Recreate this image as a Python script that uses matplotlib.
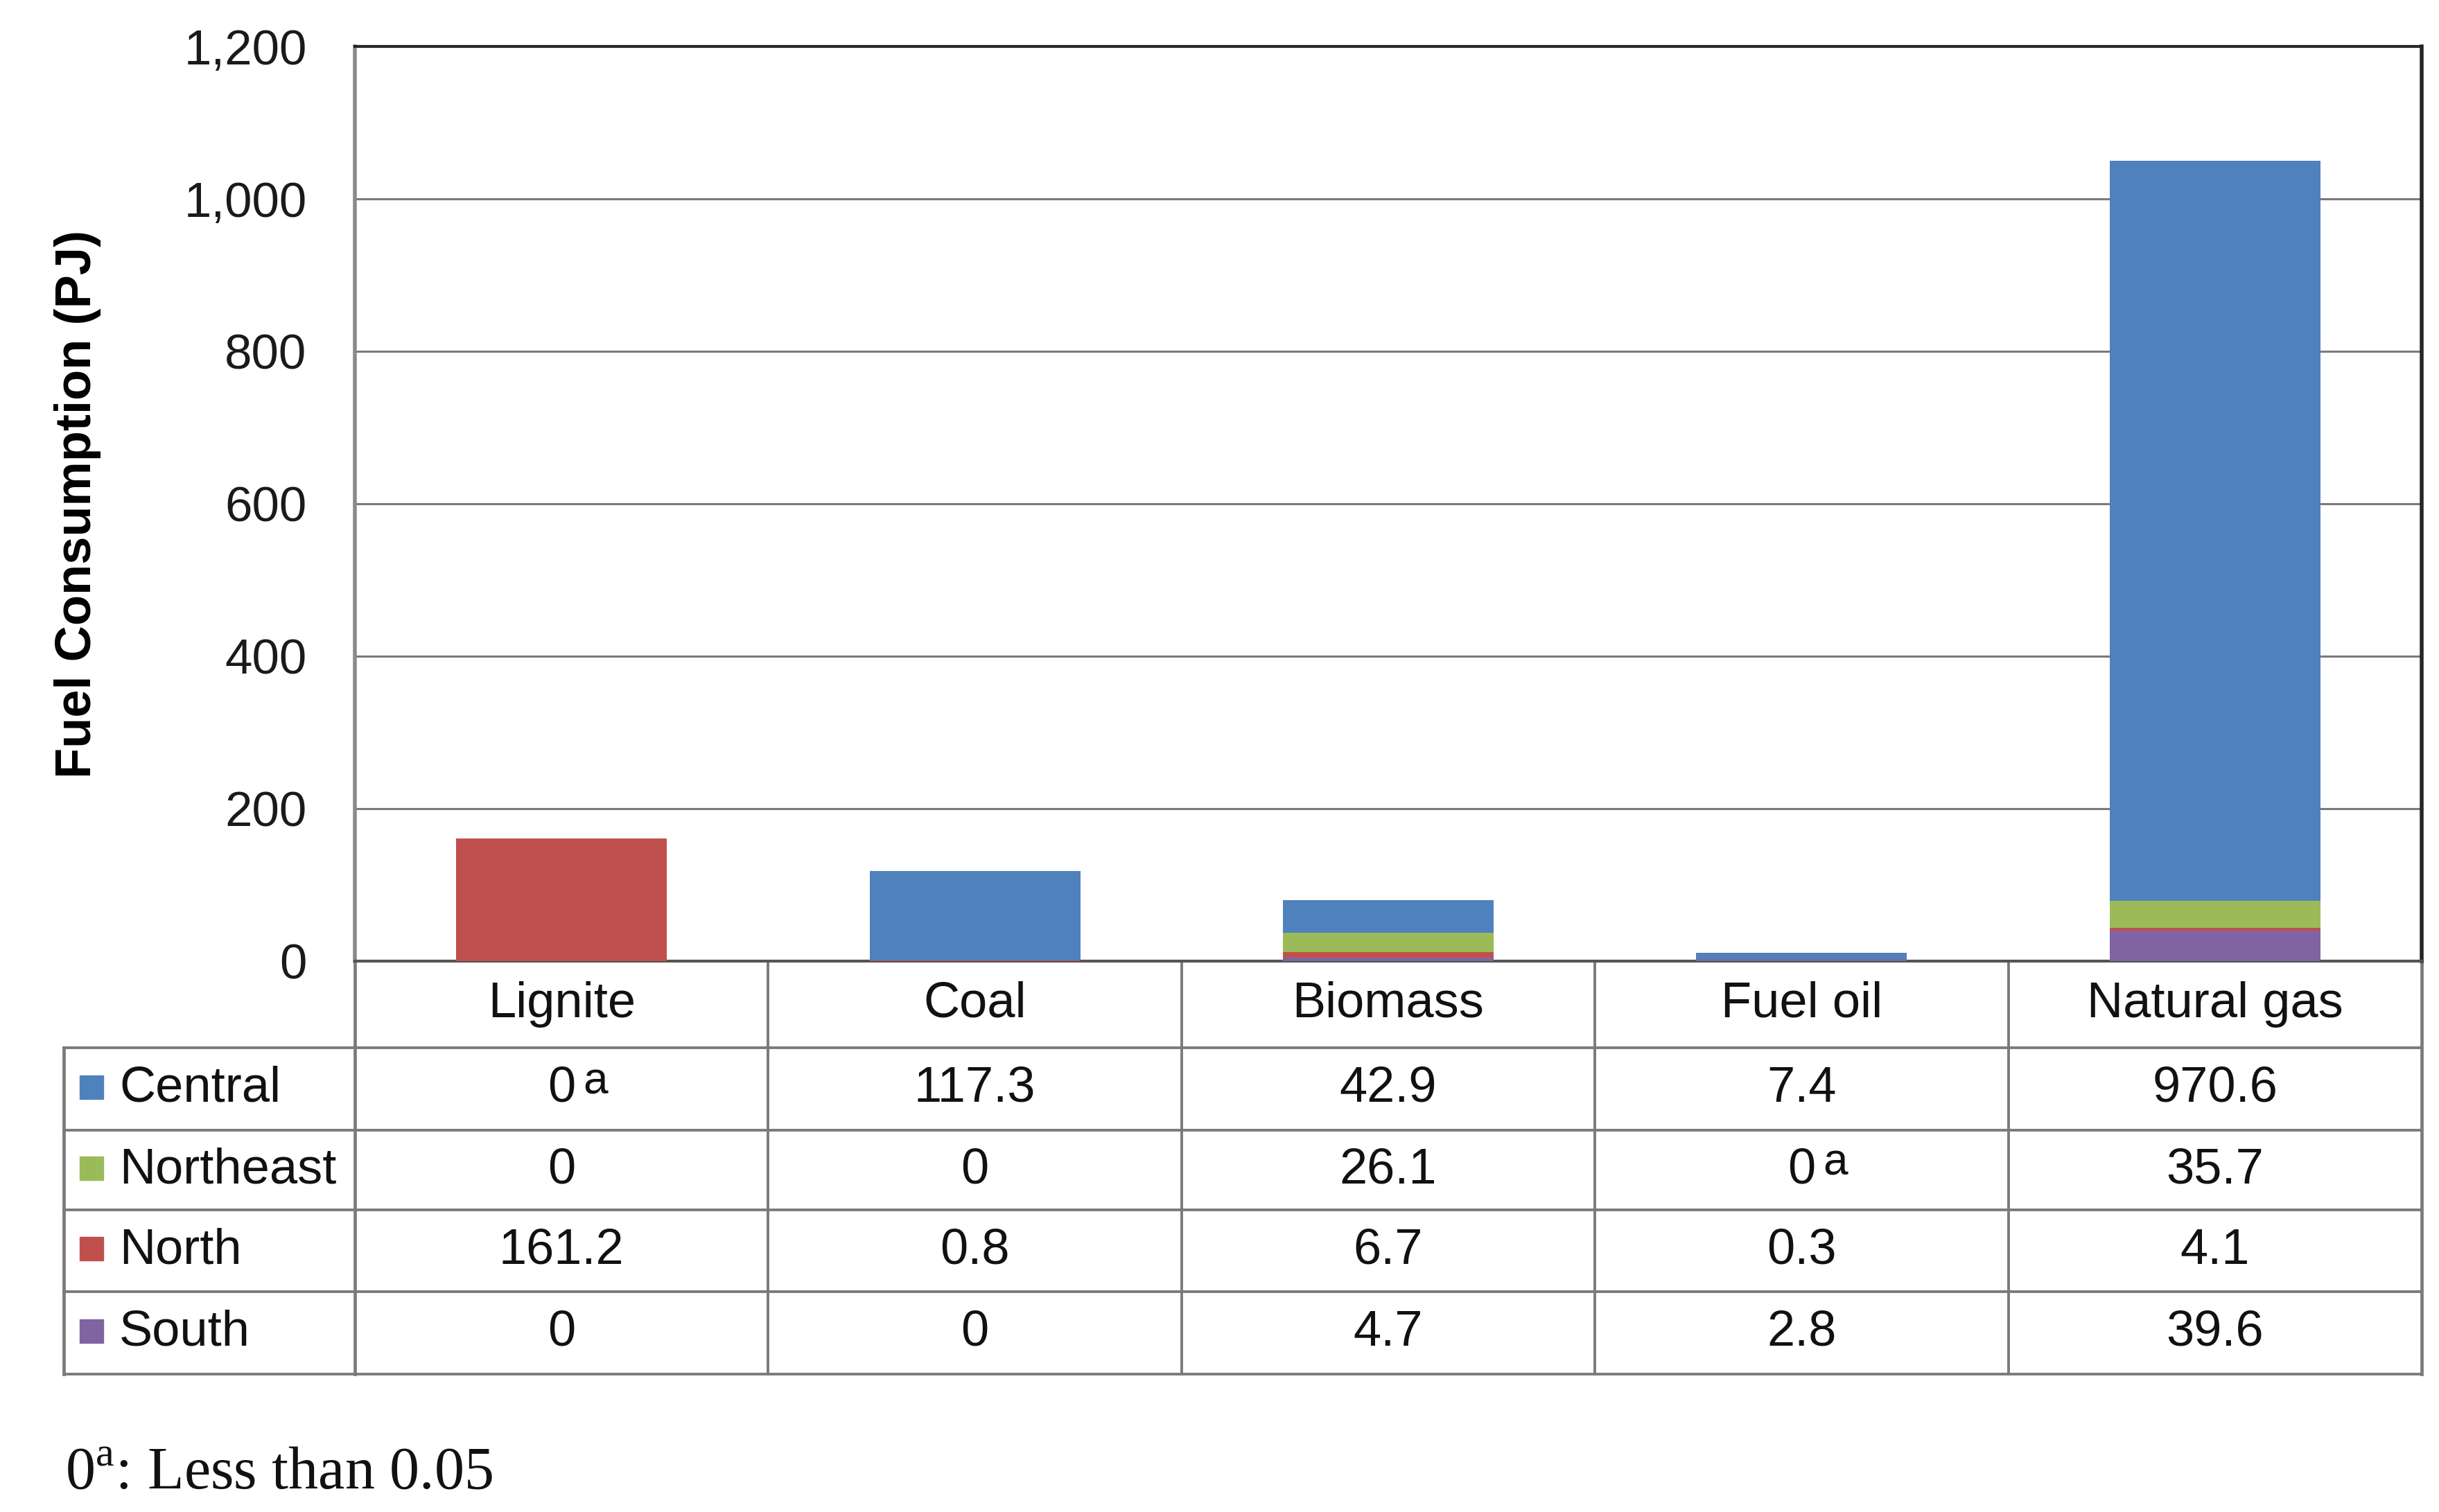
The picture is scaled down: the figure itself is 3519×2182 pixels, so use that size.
import matplotlib
matplotlib.use("Agg")
import matplotlib.pyplot as plt
from matplotlib.patches import Rectangle
from matplotlib.lines import Line2D
from matplotlib import transforms
import numpy as np

plt.rcParams['font.family'] = ['Liberation Sans', 'DejaVu Sans']
plt.rcParams['mathtext.fontset'] = 'custom'
plt.rcParams['mathtext.rm'] = 'Liberation Serif'

# ---------------- data ----------------
fuels = ["Lignite", "Coal", "Biomass", "Fuel oil", "Natural gas"]
regions = ["Central", "Northeast", "North", "South"]
central = [0, 117.3, 42.9, 7.4, 970.6]
northeast = [0, 0, 26.1, 0, 35.7]
north = [161.2, 0.8, 6.7, 0.3, 4.1]
south = [0, 0, 4.7, 2.8, 39.6]
# cells marked "0^a" (less than 0.05)
central_lt = [True, False, False, False, False]
northeast_lt = [False, False, False, True, False]
north_lt = [False] * 5
south_lt = [False] * 5
colors = {"Central": "#4F81BD", "Northeast": "#9BBB59",
          "North": "#C0504D", "South": "#8064A2"}
yticks = [0, 200, 400, 600, 800, 1000, 1200]
ylabel = "Fuel Consumption (PJ)"
footnote_text = "Less than 0.05"

series = {"Central": central, "Northeast": northeast, "North": north, "South": south}
flags = {"Central": central_lt, "Northeast": northeast_lt, "North": north_lt, "South": south_lt}

W, H = 3519, 2182
fig = plt.figure(figsize=(W / 100, H / 100), dpi=100)
ax_l, ax_r, ax_t, ax_b = 512, 3494, 67, 1387
ax = fig.add_axes([ax_l / W, 1 - ax_b / H, (ax_r - ax_l) / W, (ax_b - ax_t) / H])

x = np.arange(len(fuels))
bottom = np.zeros(len(fuels))
for reg in ["South", "North", "Northeast", "Central"]:
    vals = np.array(series[reg], dtype=float)
    ax.bar(x, vals, width=0.51, bottom=bottom, color=colors[reg], zorder=3, linewidth=0)
    bottom += vals

ax.set_xlim(-0.5, len(fuels) - 0.5)
ax.set_ylim(0, 1200)
ax.set_yticks(yticks)
ax.set_yticklabels([f"{v:,}" for v in yticks])
ax.set_xticks([])
ax.tick_params(axis='y', length=0, pad=50, labelsize=51, labelcolor="#1a1a1a")
ax.yaxis.grid(True, color="#7a7a7a", linewidth=2.2, zorder=0)
ax.set_axisbelow(True)
for side in ["top", "right"]:
    ax.spines[side].set_color("#262626")
    ax.spines[side].set_linewidth(3.0)
ax.spines["right"].set_linewidth(4.0)
ax.spines["left"].set_color("#8a8a8a")
ax.spines["left"].set_linewidth(4.0)
ax.spines["bottom"].set_color("#555555")
ax.spines["bottom"].set_linewidth(3.0)

ax.set_ylabel(ylabel, fontsize=52, fontweight="bold", labelpad=0)
ax.yaxis.set_label_coords((146 - ax_l) / (ax_r - ax_l), 0.5)

# ---------------- data table ----------------
blend = transforms.blended_transform_factory(ax.transData, ax.transAxes)
ah = ax_b - ax_t
def yfrac(py):
    return (ax_b - py) / ah
row_edges = [yfrac(p) for p in [1387, 1512, 1631, 1746, 1864, 1983]]
left_x = (92 - ax_l) / (ax_r - ax_l)
gcol = "#7a7a7a"
lw = 2.8

# horizontal lines
for i, ye in enumerate(row_edges[1:]):
    ax.add_line(Line2D([left_x, 1], [ye, ye], transform=ax.transAxes, color=gcol,
                       lw=lw, clip_on=False))
# vertical lines
for xe in np.arange(-0.5, len(fuels), 1.0):
    ax.add_line(Line2D([xe, xe], [row_edges[0], row_edges[-1]], transform=blend,
                       color=gcol, lw=lw if -0.5 < xe < len(fuels) - 0.5 else lw + 0.6,
                       clip_on=False))
ax.add_line(Line2D([left_x, left_x], [row_edges[1], row_edges[-1]], transform=ax.transAxes,
                   color=gcol, lw=lw + 0.6, clip_on=False))

fs = 52
# header
hy = (row_edges[0] + row_edges[1]) / 2
for i, f in enumerate(fuels):
    ax.text(i, hy, f, transform=blend, ha="center", va="center", fontsize=fs, color="#111111")

# rows
sq_w = 34 / (ax_r - ax_l)
sq_h = 34 / ah
for r, reg in enumerate(regions):
    yc = (row_edges[r + 1] + row_edges[r + 2]) / 2
    ax.add_patch(Rectangle((-0.1331, yc - sq_h / 2 + 0.002), sq_w, sq_h, transform=ax.transAxes,
                           color=colors[reg], clip_on=False))
    ax.text(-0.1140, yc, reg, transform=ax.transAxes, ha="left", va="center",
            fontsize=fs, color="#111111")
    for i, v in enumerate(series[reg]):
        s = "0" if v == 0 else f"{v:.1f}"
        ax.text(i, yc, s, transform=blend, ha="center", va="center", fontsize=fs, color="#111111")
        if flags[reg][i]:
            t = transforms.offset_copy(blend, fig=fig, x=22, y=7, units="points")
            ax.text(i, yc, "a", transform=t, ha="left", va="center", fontsize=46, color="#111111")

# footnote
fig.text(94 / W, 1 - 2128 / H, r"0$^{\mathrm{a}}$: " + footnote_text, family="Liberation Serif",
         fontsize=62, ha="left", va="center", color="#111111")

fig.savefig("out.png", dpi=100, facecolor="white")
